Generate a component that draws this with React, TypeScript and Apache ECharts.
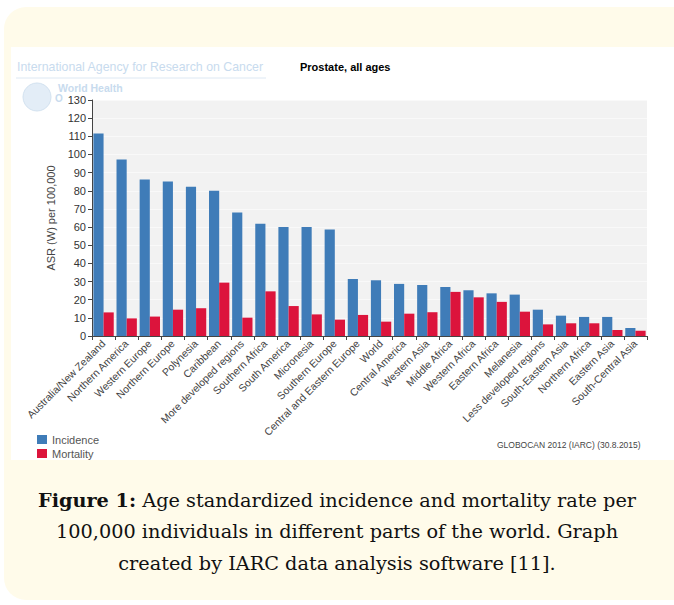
import React, { useEffect, useRef } from "react";
import * as echarts from "echarts";

const categories = [
  "Australia/New Zealand", "Northern America", "Western Europe", "Northern Europe",
  "Polynesia", "Caribbean", "More developed regions", "Southern Africa", "South America",
  "Micronesia", "Southern Europe", "Central and Eastern Europe", "World", "Central America",
  "Western Asia", "Middle Africa", "Western Africa", "Eastern Africa", "Melanesia",
  "Less developed regions", "South-Eastern Asia", "Northern Africa", "Eastern Asia",
  "South-Central Asia",
];
const incidence = [111.6, 97.2, 86.2, 85.1, 82.2, 80.0, 68.0, 61.8, 60.1, 60.1, 58.6, 31.4, 30.7, 28.7, 28.1, 27.0, 25.2, 23.5, 22.8, 14.5, 11.2, 10.5, 10.5, 4.4];
const mortality = [13.0, 9.7, 10.7, 14.5, 15.3, 29.4, 10.1, 24.6, 16.5, 11.9, 9.0, 11.6, 7.9, 12.3, 13.1, 24.3, 21.3, 18.8, 13.4, 6.4, 7.0, 7.0, 3.3, 2.9];
const seriesNames = ["Incidence", "Mortality"];
const captionLines = [
  "{b|Figure 1:} Age standardized incidence and mortality rate per",
  "100,000 individuals in different parts of the world. Graph",
  "created by IARC data analysis software [11].",
];

export default function App() {
  const ref = useRef<HTMLDivElement>(null);
  useEffect(() => {
    document.body.style.margin = "0";
    const chart = echarts.init(ref.current!, null, { renderer: "svg" });
    const sans = "Arial, 'Liberation Sans', sans-serif";
    const serif = "'DejaVu Serif', serif";
    const faint = "#c8dbee";
    const capSize = 19.3;
    chart.setOption({
      animation: false,
      backgroundColor: "#ffffff",
      graphic: [
        { type: "rect", z: -10, shape: { x: 4, y: 7, width: 700, height: 593, r: 22 }, style: { fill: "#fffbea" } },
        { type: "rect", z: -9, shape: { x: 11, y: 47, width: 663, height: 413 }, style: { fill: "#ffffff" } },
        { type: "text", x: 17, y: 67, scaleX: 0.95, style: { text: "International Agency for Research on Cancer", font: `13px ${sans}`, fill: faint, verticalAlign: "middle" } },
        { type: "line", shape: { x1: 16, y1: 78, x2: 266, y2: 78 }, style: { stroke: "#dde8f3", lineWidth: 1 } },
        { type: "circle", shape: { cx: 37, cy: 97, r: 14 }, style: { fill: "#e3edf7", stroke: "#d3e2f0", lineWidth: 1 } },
        { type: "text", x: 58, y: 87.5, style: { text: "World Health", font: `bold 10.5px ${sans}`, fill: faint, verticalAlign: "middle" } },
        { type: "text", x: 55, y: 98, style: { text: "O", font: `bold 10px ${sans}`, fill: faint, verticalAlign: "middle" } },
        { type: "text", x: 300, y: 67, style: { text: "Prostate, all ages", font: `bold 11px ${sans}`, fill: "#000", verticalAlign: "middle" } },
        { type: "text", x: 497, y: 445, style: { text: "GLOBOCAN 2012 (IARC) (30.8.2015)", font: `8.5px ${sans}`, fill: "#444", verticalAlign: "middle" } },
        ...captionLines.map((t, i) => ({
          type: "text",
          x: 337,
          y: 500 + i * 31.5,
          style: {
            text: t,
            fill: "#111",
            align: "center",
            verticalAlign: "middle",
            font: `${capSize}px ${serif}`,
            rich: {
              b: { fontWeight: "bold", fontSize: capSize, fontFamily: serif, fill: "#111" },
            },
          },
        })),
      ],
      legend: {
        orient: "vertical",
        left: 32,
        top: 429,
        itemWidth: 10,
        itemHeight: 9,
        itemGap: 3,
        icon: "rect",
        textStyle: { fontSize: 11, color: "#555", fontFamily: sans },
        data: seriesNames,
      },
      grid: {
        left: 92,
        top: 100,
        right: 27,
        bottom: 269,
        show: true,
        backgroundColor: "#f2f2f2",
        borderWidth: 0,
      },
      xAxis: {
        type: "category",
        data: categories,
        axisLine: { lineStyle: { color: "#444", width: 1 } },
        axisTick: { show: true, length: 4, lineStyle: { color: "#444" } },
        axisLabel: { interval: 0, rotate: 45, fontSize: 10.5, color: "#444", fontFamily: sans, margin: 6 },
      },
      yAxis: {
        type: "value",
        min: 0,
        max: 130,
        interval: 10,
        name: "ASR (W) per 100,000",
        nameLocation: "middle",
        nameRotate: 90,
        nameGap: 35,
        nameTextStyle: { fontSize: 11, color: "#444", fontFamily: sans },
        axisLine: { show: true, lineStyle: { color: "#444", width: 1 } },
        axisTick: { show: true, length: 4, lineStyle: { color: "#444" } },
        axisLabel: { fontSize: 11, color: "#333", fontFamily: sans, margin: 6 },
        splitLine: { show: true, lineStyle: { color: "#f9f9f9", width: 1 } },
      },
      series: [
        { name: seriesNames[0], type: "bar", data: incidence, itemStyle: { color: "#3f7cb8" }, barGap: "0%", barCategoryGap: "12%" },
        { name: seriesNames[1], type: "bar", data: mortality, itemStyle: { color: "#dc143c" }, barGap: "0%", barCategoryGap: "12%" },
      ],
    });
    return () => chart.dispose();
  }, []);
  return <div ref={ref} style={{ position: "absolute", left: 0, top: 0, width: 674, height: 605 }} />;
}
